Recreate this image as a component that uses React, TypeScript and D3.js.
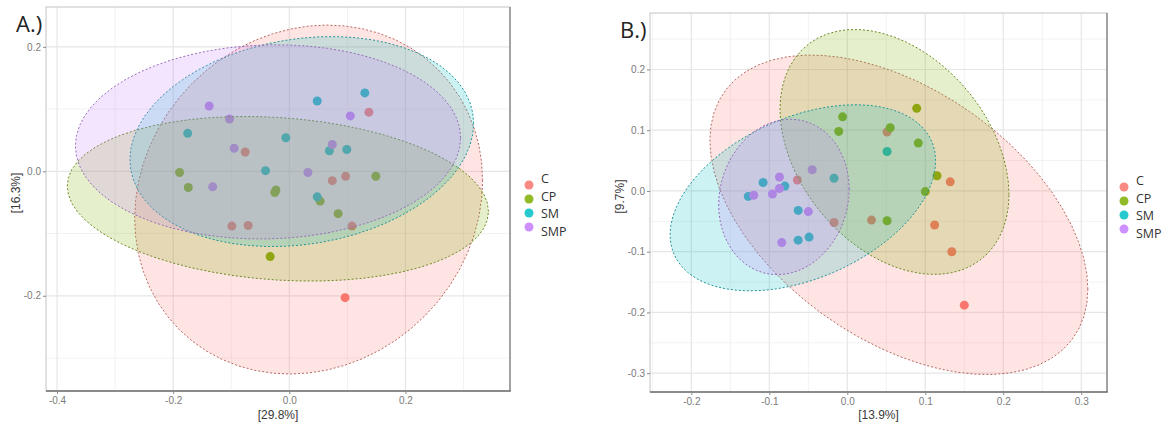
import React, { useEffect, useRef } from 'react';
import * as d3 from 'd3';

const groups = ['C', 'CP', 'SM', 'SMP'];
const groupColors = ['#F8766D', '#7CAE00', '#00BFC4', '#C77CFF'];

// panel A ordination scores [axis1, axis2]
const A_C = [[-0.076, 0.031], [0.137, 0.095], [0.074, -0.015], [0.097, -0.008], [-0.099, -0.088], [-0.071, -0.087], [0.108, -0.088], [0.096, -0.203]];
// one CP sample sits almost under another near (-0.02, -0.03)
const A_CP = [[-0.189, -0.002], [-0.174, -0.026], [-0.023, -0.030], [-0.025, -0.034], [0.053, -0.048], [0.084, -0.068], [0.149, -0.008], [-0.033, -0.137]];
const A_SM = [[-0.175, 0.061], [-0.006, 0.054], [-0.041, 0.001], [0.048, 0.113], [0.130, 0.126], [0.069, 0.033], [0.099, 0.035], [0.048, -0.041]];
const A_SMP = [[-0.138, 0.105], [-0.103, 0.084], [-0.095, 0.037], [-0.132, -0.025], [0.032, -0.002], [0.074, 0.043], [0.105, 0.089]];

// panel B ordination scores
const B_C = [[0.051, 0.097], [0.132, 0.015], [-0.064, 0.018], [-0.017, -0.052], [0.031, -0.048], [0.112, -0.056], [0.134, -0.100], [0.150, -0.188]];
const B_CP = [[-0.006, 0.122], [-0.011, 0.098], [0.055, 0.104], [0.089, 0.136], [0.091, 0.079], [0.115, 0.025], [0.100, -0.001], [0.051, -0.049]];
const B_SM = [[0.051, 0.065], [-0.017, 0.021], [-0.108, 0.014], [-0.080, 0.008], [-0.127, -0.009], [-0.063, -0.032], [-0.063, -0.081], [-0.049, -0.076]];
const B_SMP = [[-0.045, 0.035], [-0.087, 0.023], [-0.096, -0.005], [-0.120, -0.007], [-0.087, 0.004], [-0.050, -0.034], [-0.084, -0.085]];

const A_xTicks = [-0.4, -0.2, 0, 0.2];
const A_yTicks = [-0.2, 0, 0.2];
const B_xTicks = [-0.2, -0.1, 0, 0.1, 0.2, 0.3];
const B_yTicks = [-0.3, -0.2, -0.1, 0, 0.1, 0.2];

// same maths as ggplot2 stat_ellipse (cov + F quantile radius)
function ellipse(pts: number[][], level = 0.95, segments = 60) {
  const n = pts.length;
  const mx = d3.mean(pts, (p) => p[0]) as number;
  const my = d3.mean(pts, (p) => p[1]) as number;
  let sxx = 0, syy = 0, sxy = 0;
  pts.forEach(([x, y]) => {
    sxx += (x - mx) * (x - mx);
    syy += (y - my) * (y - my);
    sxy += (x - mx) * (y - my);
  });
  sxx /= n - 1; syy /= n - 1; sxy /= n - 1;
  const r11 = Math.sqrt(sxx);
  const r12 = sxy / r11;
  const r22 = Math.sqrt(syy - r12 * r12);
  const dfd = n - 1;
  const radius = Math.sqrt(dfd * (Math.pow(1 - level, -2 / dfd) - 1));
  return d3.range(segments).map((i) => {
    const a = (i / segments) * 2 * Math.PI;
    const c = Math.cos(a), s = Math.sin(a);
    return [mx + radius * c * r11, my + radius * (c * r12 + s * r22)];
  });
}

function drawPanel(svg, cfg) {
  const { left, right, top, bottom, xDomain, yDomain, xTicks, yTicks, xMinor, yMinor, series, label, xTitle, yTitle, legendX, legendCircleY, legendTextY } = cfg;
  const x = d3.scaleLinear().domain(xDomain).range([left, right]);
  const y = d3.scaleLinear().domain(yDomain).range([bottom, top]);
  const g = svg.append('g');

  // grid
  g.selectAll('.xminor').data(xMinor).enter().append('line')
    .attr('x1', (d) => x(d)).attr('x2', (d) => x(d)).attr('y1', top).attr('y2', bottom)
    .attr('stroke', '#f2f2f2').attr('stroke-width', 1);
  g.selectAll('.yminor').data(yMinor).enter().append('line')
    .attr('y1', (d) => y(d)).attr('y2', (d) => y(d)).attr('x1', left).attr('x2', right)
    .attr('stroke', '#f2f2f2').attr('stroke-width', 1);
  g.selectAll('.xmajor').data(xTicks).enter().append('line')
    .attr('x1', (d) => x(d)).attr('x2', (d) => x(d)).attr('y1', top).attr('y2', bottom)
    .attr('stroke', '#e6e6e6').attr('stroke-width', 1.2);
  g.selectAll('.ymajor').data(yTicks).enter().append('line')
    .attr('y1', (d) => y(d)).attr('y2', (d) => y(d)).attr('x1', left).attr('x2', right)
    .attr('stroke', '#e6e6e6').attr('stroke-width', 1.2);

  // points below the ellipses
  series.forEach((pts, i) => {
    g.selectAll('.pt' + i).data(pts).enter().append('circle')
      .attr('cx', (d) => x(d[0])).attr('cy', (d) => y(d[1])).attr('r', 4.5)
      .attr('fill', groupColors[i]);
  });

  const line = d3.line().x((d) => x(d[0])).y((d) => y(d[1])).curve(d3.curveLinearClosed);
  series.forEach((pts, i) => {
    g.append('path')
      .attr('d', line(ellipse(pts)))
      .attr('fill', groupColors[i]).attr('fill-opacity', 0.2)
      .attr('stroke', d3.interpolateRgb(groupColors[i], '#555')(0.4))
      .attr('stroke-width', 1).attr('stroke-dasharray', '2,2');
  });

  // frame
  g.append('rect').attr('x', left).attr('y', top).attr('width', right - left).attr('height', bottom - top)
    .attr('fill', 'none').attr('stroke', '#c4c4c4').attr('stroke-width', 1);
  g.append('line').attr('x1', right).attr('x2', right).attr('y1', top).attr('y2', bottom)
    .attr('stroke', '#8c8c8c').attr('stroke-width', 1.5);
  g.append('line').attr('x1', left).attr('x2', right + 0.75).attr('y1', bottom).attr('y2', bottom)
    .attr('stroke', '#6e6e6e').attr('stroke-width', 1.5);

  const fmt = (v) => v.toFixed(1);
  const xAxis = g.append('g').attr('transform', `translate(0,${bottom})`)
    .call(d3.axisBottom(x).tickValues(xTicks).tickSize(3).tickPadding(3).tickFormat(fmt));
  const yAxis = g.append('g').attr('transform', `translate(${left},0)`)
    .call(d3.axisLeft(y).tickValues(yTicks).tickSize(3).tickPadding(2).tickFormat(fmt));
  [xAxis, yAxis].forEach((ax) => {
    ax.select('.domain').remove();
    ax.selectAll('line').attr('stroke', '#8a8a8a');
    ax.selectAll('text').attr('fill', '#7a7a7a').attr('font-size', 10)
      .attr('font-family', 'Liberation Sans, Arial, sans-serif');
  });

  g.append('text').attr('x', (left + right) / 2).attr('y', 419).attr('text-anchor', 'middle')
    .attr('font-size', 12).attr('fill', '#3a3a3a').attr('font-family', 'Liberation Sans, Arial, sans-serif')
    .text(xTitle);
  g.append('text').attr('transform', `translate(${left - 26},${(top + bottom) / 2 - 6}) rotate(-90)`)
    .attr('text-anchor', 'middle').attr('font-size', 12).attr('fill', '#3a3a3a')
    .attr('font-family', 'Liberation Sans, Arial, sans-serif')
    .text(yTitle);

  g.append('text').attr('x', left - 30).attr('y', top + 25)
    .attr('font-size', 22).attr('fill', '#222').attr('font-family', 'Open Sans, sans-serif')
    .text(label);

  // legend
  groups.forEach((name, i) => {
    g.append('circle').attr('cx', legendX).attr('cy', legendCircleY[i]).attr('r', 4.5)
      .attr('fill', groupColors[i]).attr('fill-opacity', 0.85);
    g.append('text').attr('x', legendX + 12).attr('y', legendTextY[i]).attr('dy', '0.35em')
      .attr('font-size', 12.5).attr('fill', '#333').attr('font-family', 'Open Sans, sans-serif')
      .text(name);
  });
}

export default function App() {
  const svgRef = useRef(null);

  useEffect(() => {
    const svg = d3.select(svgRef.current);
    svg.selectAll('*').remove();
    svg.append('rect').attr('width', 1169).attr('height', 424).attr('fill', '#fff');

    drawPanel(svg, {
      left: 46, right: 510, top: 7, bottom: 391,
      xDomain: [-0.419, 0.380], yDomain: [-0.353, 0.264],
      xTicks: A_xTicks, yTicks: A_yTicks,
      xMinor: [-0.3, -0.1, 0.1, 0.3], yMinor: [-0.3, -0.1, 0.1],
      series: [A_C, A_CP, A_SM, A_SMP],
      label: 'A.)', xTitle: '[29.8%]', yTitle: '[16.3%]',
      legendX: 529, legendCircleY: [185, 199, 213, 227], legendTextY: [179, 196.5, 214, 231.5],
    });

    drawPanel(svg, {
      left: 650, right: 1107, top: 13, bottom: 392,
      xDomain: [-0.253, 0.333], yDomain: [-0.331, 0.293],
      xTicks: B_xTicks, yTicks: B_yTicks,
      xMinor: [-0.25, -0.15, -0.05, 0.05, 0.15, 0.25], yMinor: [-0.25, -0.15, -0.05, 0.05, 0.15, 0.25],
      series: [B_C, B_CP, B_SM, B_SMP],
      label: 'B.)', xTitle: '[13.9%]', yTitle: '[9.7%]',
      legendX: 1124, legendCircleY: [187, 201, 215, 229], legendTextY: [181, 198.5, 216, 233.5],
    });
  }, []);

  return (
    <svg ref={svgRef} width={1169} height={424} style={{ position: 'absolute', left: 0, top: 0 }} />
  );
}
